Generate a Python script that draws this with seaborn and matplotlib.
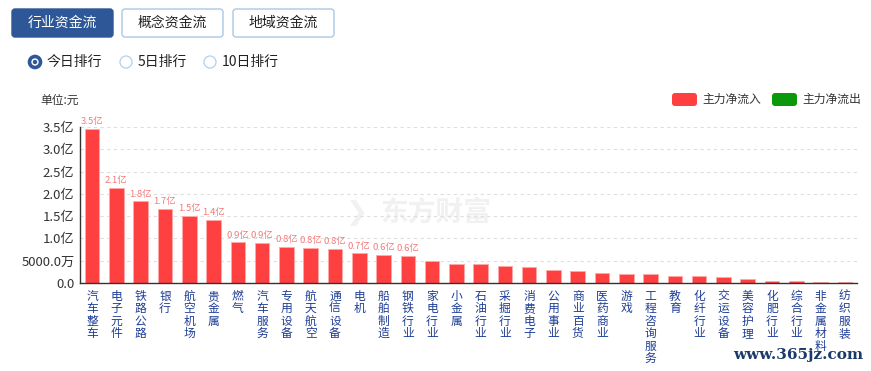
import matplotlib
matplotlib.use("Agg")
import matplotlib.pyplot as plt
from matplotlib.patches import FancyBboxPatch, Circle
import seaborn as sns
import pandas as pd

# 行业主力净流入 (单位: 亿元)
industries = ["汽车整车", "电子元件", "铁路公路", "银行", "航空机场", "贵金属", "燃气", "汽车服务",
              "专用设备", "航天航空", "通信设备", "电机", "船舶制造", "钢铁行业", "家电行业", "小金属",
              "石油行业", "采掘行业", "消费电子", "公用事业", "商业百货", "医药商业", "游戏", "工程咨询服务",
              "教育", "化纤行业", "交运设备", "美容护理", "化肥行业", "综合行业", "非金属材料", "纺织服装"]
net_inflow = [3.46, 2.13, 1.83, 1.66, 1.50, 1.41, 0.91, 0.89,
              0.81, 0.79, 0.76, 0.66, 0.62, 0.60, 0.48, 0.43,
              0.41, 0.37, 0.36, 0.28, 0.27, 0.225, 0.196, 0.196,
              0.15, 0.15, 0.135, 0.075, 0.038, 0.03, 0.025, 0.022]
y_ticks = [0, 0.5, 1.0, 1.5, 2.0, 2.5, 3.0, 3.5]
y_tick_labels = ["0.0", "5000.0万", "1.0亿", "1.5亿", "2.0亿", "2.5亿", "3.0亿", "3.5亿"]
tabs = ["行业资金流", "概念资金流", "地域资金流"]
ranks = ["今日排行", "5日排行", "10日排行"]
legend_names = ["主力净流入", "主力净流出"]

sns.set_style("white")
plt.rcParams['font.family'] = ['Noto Sans CJK SC', 'DejaVu Sans']

W, H = 871, 371
fig = plt.figure(figsize=(W / 100, H / 100), dpi=100)

# background layer in pixel coordinates (buttons, legend, watermark)
ov = fig.add_axes([0, 0, 1, 1], zorder=0)
ov.set_xlim(0, W)
ov.set_ylim(H, 0)
ov.axis("off")

ov.text(436, 213, "东方财富", fontsize=20, fontweight="bold", color="#f1f1f1", ha="center", va="center")
ov.text(357, 213, "❯", fontsize=19, color="#f1f1f1", ha="center", va="center", family=["DejaVu Sans"])

tab_x = [12, 122, 233]
for i, (name, x0) in enumerate(zip(tabs, tab_x)):
    active = i == 0
    ov.add_patch(FancyBboxPatch((x0, 9), 101, 28, boxstyle="round,pad=0,rounding_size=3",
                                facecolor="#2d5796" if active else "white",
                                edgecolor="#2d5796" if active else "#aac8e6", linewidth=1))
    ov.text(x0 + 50.5, 23, name, fontsize=10, color="white" if active else "#222222",
            ha="center", va="center")

radio_x = [35, 126, 210]
for i, (name, cx) in enumerate(zip(ranks, radio_x)):
    if i == 0:
        ov.add_patch(Circle((cx, 62), 5.5, facecolor="white", edgecolor="#2d5796", linewidth=2.6))
        ov.add_patch(Circle((cx, 62), 2.2, facecolor="#2d5796", edgecolor="none"))
    else:
        ov.add_patch(Circle((cx, 62), 6, facecolor="white", edgecolor="#b9d4ee", linewidth=1))
    ov.text(cx + 12, 62, name, fontsize=10, color="#222222", ha="left", va="center")

ov.text(40, 100, "单位:元", fontsize=8.5, color="#333333", ha="left", va="center")

for name, x0, col in zip(legend_names, [672, 772], ["#ff4040", "#0a990a"]):
    ov.add_patch(FancyBboxPatch((x0, 93), 25, 13, boxstyle="round,pad=0,rounding_size=3",
                                facecolor=col, edgecolor="none"))
    ov.text(x0 + 30, 99.5, name, fontsize=8.5, color="#333333", ha="left", va="center")

ov.text(863, 355, "www.365jz.com", fontsize=11, fontweight="bold", family=["DejaVu Serif"],
        color="#1b3a6b", ha="right", va="center")

# chart
ax = fig.add_axes([80 / W, (H - 282.7) / H, (857 - 80) / W, 155.4 / H], zorder=1)
ax.patch.set_alpha(0)
df = pd.DataFrame({"行业": industries, "净流入": net_inflow})
sns.barplot(data=df, x="行业", y="净流入", color="#ff4040", saturation=1, width=0.6,
            edgecolor="#ffa8a8", linewidth=0.7, ax=ax)

for i, v in enumerate(net_inflow):
    if v >= 0.5:
        ax.annotate(f"{v:.1f}亿", (i, v), xytext=(0, 2), textcoords="offset points",
                    ha="center", va="bottom", fontsize=6.8, color="#f47a7a", annotation_clip=False)

ax.set_xlim(-0.5, len(industries) - 0.5)
ax.set_ylim(0, 3.5)
ax.set_yticks(y_ticks)
ax.set_yticklabels(y_tick_labels)
ax.set_xticks(range(len(industries)))
ax.set_xticklabels(["\n".join(n) for n in industries], linespacing=0.95, va="top")
ax.tick_params(axis="x", length=0, pad=5, labelsize=8.5, labelcolor="#1f3e96")
ax.tick_params(axis="y", length=0, pad=4, labelsize=9.5, labelcolor="#333333")
ax.set_xlabel("")
ax.set_ylabel("")
ax.yaxis.grid(True, linestyle=(0, (3, 3)), color="#dedede", linewidth=0.8)
ax.set_axisbelow(True)
for side in ["top", "right"]:
    ax.spines[side].set_visible(False)
for side in ["left", "bottom"]:
    ax.spines[side].set_color("#333333")
    ax.spines[side].set_linewidth(1)

fig.savefig("out.png", dpi=100)
